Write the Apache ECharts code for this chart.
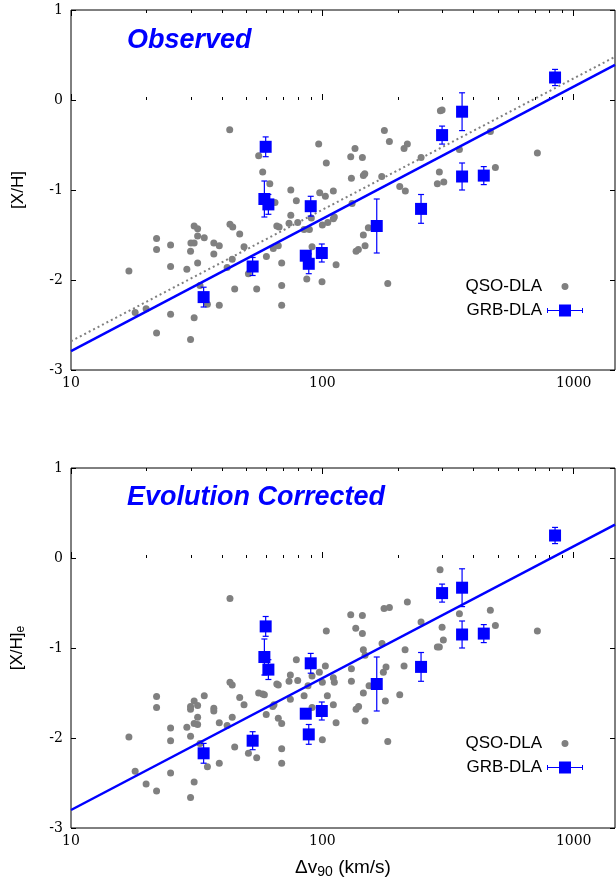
<!DOCTYPE html>
<html>
<head>
<meta charset="utf-8">
<script src="https://cdn.jsdelivr.net/npm/echarts@6/dist/echarts.min.js"></script>
<style>
  html, body { margin: 0; padding: 0; background: #fff; }
  #chart { width: 616px; height: 888px; }
</style>
</head>
<body>
<div id="chart"></div>
<script>
// QSO-DLA points: [dv90 (km/s), [X/H]]
const qsoObs = [
  [42.8,-0.33],[55.8,-0.62],[57.9,-0.80],[61.8,-0.93],[96.7,-0.49],[103.7,-0.70],[74.9,-1.00],[78.8,-1.12],
  [64.8,-1.14],[97.6,-1.03],[102.8,-1.07],[110.6,-1.01],[74.9,-1.28],[65.9,-1.40],[67.3,-1.41],[73.7,-1.37],
  [79.8,-1.36],[84.6,-1.44],[88.8,-1.44],[100,-1.39],[105.1,-1.36],[110.6,-1.32],[111.6,-1.30],[30.9,-1.40],
  [31.9,-1.43],[42.9,-1.38],[44.0,-1.41],[46.9,-1.49],[21.9,-1.54],[21.9,-1.66],[24.9,-1.61],[31.9,-1.51],
  [33.9,-1.53],[30.0,-1.59],[30.9,-1.59],[29.9,-1.68],[37.0,-1.59],[38.9,-1.62],[37.0,-1.71],[48.8,-1.63],
  [63.8,-1.65],[66.8,-1.62],[59.9,-1.74],[43.8,-1.77],[41.8,-1.86],[31.9,-1.81],[28.9,-1.88],[24.9,-1.85],
  [17.0,-1.90],[68.9,-1.81],[91.0,-1.63],[113.4,-1.83],[50.8,-1.93],[44.8,-2.10],[54.8,-2.10],[68.9,-2.06],
  [86.7,-1.99],[99.7,-2.02],[32.6,-2.06],[34.9,-2.27],[38.9,-2.28],[68.9,-2.28],[18.0,-2.36],[19.9,-2.32],
  [24.9,-2.38],[30.9,-2.42],[21.9,-2.59],[29.9,-2.66],[90.4,-1.31],
  [176.5,-0.34],[184.8,-0.46],[211.4,-0.54],[217.9,-0.49],[134.9,-0.54],[129.7,-0.63],[144.3,-0.64],
  [145.6,-0.84],[147.5,-0.82],[130.5,-0.87],[172.3,-0.85],[247.1,-0.64],[294.9,-0.12],[299.5,-0.11],
  [466.2,-0.35],[351,-0.55],[717,-0.59],[488,-0.75],[292.1,-0.80],[286.8,-0.93],[304.2,-0.91],[203.2,-0.96],
  [213.9,-1.01],[131.3,-1.15],[152.4,-1.42],[145.6,-1.50],[147.9,-1.62],[139.1,-1.66],[136.2,-1.68],[182.1,-2.04]
];

const qsoCorr = [
  [42.9,-0.45],[103.7,-0.81],[78.8,-1.13],[102.8,-1.20],[97.3,-1.27],[91.0,-1.31],[74.6,-1.30],[79.8,-1.36],
  [73.7,-1.37],[87.7,-1.42],[100,-1.38],[110.6,-1.33],[111.6,-1.38],[65.9,-1.40],[66.8,-1.41],[55.8,-1.50],
  [57.9,-1.51],[58.8,-1.52],[42.9,-1.38],[43.8,-1.41],[46.9,-1.55],[48.8,-1.63],[33.9,-1.53],[30.9,-1.59],
  [31.9,-1.64],[29.9,-1.65],[29.9,-1.68],[21.9,-1.54],[21.9,-1.66],[37.0,-1.67],[37.0,-1.70],[31.9,-1.77],
  [30.9,-1.84],[31.9,-1.85],[38.9,-1.83],[41.8,-1.86],[43.8,-1.77],[24.9,-1.89],[28.9,-1.88],[29.9,-1.98],
  [24.9,-2.03],[17.0,-1.99],[64.2,-1.63],[63.5,-1.65],[59.8,-1.74],[66.8,-1.78],[68.9,-1.84],[74.6,-1.57],
  [84.6,-1.53],[91.0,-1.66],[104.7,-1.53],[110.6,-1.63],[113.4,-1.83],[100,-2.02],[32.6,-2.06],[44.8,-2.10],
  [50.8,-2.17],[54.8,-2.22],[68.9,-2.12],[68.9,-2.28],[34.9,-2.32],[38.9,-2.28],[18.0,-2.37],[24.9,-2.39],
  [19.9,-2.51],[30.9,-2.49],[21.9,-2.59],[29.9,-2.66],
  [294.0,-0.13],[351,-0.62],[466,-0.58],[488,-0.75],[717,-0.81],[299.5,-0.77],[303,-0.91],[286.8,-0.99],
  [292.1,-0.99],[247,-0.71],[217.9,-0.49],[176,-0.56],[184.8,-0.55],[213.4,-1.02],[211.4,-1.20],[203.2,-1.52],
  [172.8,-0.95],[145.6,-1.02],[147.9,-1.08],[129.7,-0.63],[144.3,-0.64],[135.8,-0.78],[144.3,-0.84],
  [130.5,-1.23],[130.5,-1.37],[145.6,-1.50],[153.4,-1.42],[174.9,-1.27],[179.2,-1.21],[136.2,-1.68],
  [139.4,-1.65],[178.1,-1.59],[147.9,-1.81],[182.1,-2.04]
];

// GRB-DLA points
const grbV    = [59.5, 58.8, 61.0, 89.9, 52.8, 33.7, 85.9, 88.3, 99.5, 164.6, 247, 299.5, 359.7, 359.7, 438.8, 843];
const grbObs  = [-0.52, -1.10, -1.16, -1.18, -1.85, -2.19, -1.73, -1.82, -1.70, -1.40, -1.21, -0.39, -0.13, -0.85, -0.84, 0.25];
const grbCorr = [-0.76, -1.10, -1.24, -1.17, -2.03, -2.17, -1.73, -1.96, -1.70, -1.40, -1.21, -0.39, -0.33, -0.85, -0.84, 0.25];
const grbErr  = [0.11, 0.20, 0.11, 0.11, 0.10, 0.11, 0.05, 0.11, 0.10, 0.30, 0.16, 0.10, 0.21, 0.15, 0.10, 0.09];

// fit lines (end points)
const fitObs    = [[10, -2.79], [1460, 0.39]];
const fitQsoObs = [[10, -2.68], [1460, 0.48]];
const fitCorr   = [[10, -2.80], [1460, 0.37]];

const xMajorTicks = [10, 100, 1000];
const xMinorTicks = [20, 30, 40, 50, 60, 70, 80, 90, 200, 300, 400, 500, 600, 700, 800, 900];
const xMin = 10, xMax = 1460;

const BLUE = '#0000ff';
const GRAY = '#808080';

const chart = echarts.init(document.getElementById('chart'), null, { renderer: 'canvas' });

const grbIcon = 'path://M0,3.5h1v5h-1zM35,3.5h1v5h-1zM0,5.5h36v1h-36zM12,0h12v12h-12z';
const dotIcon = 'path://M0,0L0.01,0M36,12L36.01,12M14.5,6A3.5,3.5,0,1,1,21.5,6A3.5,3.5,0,1,1,14.5,6Z';

const tickFont = { fontFamily: 'DejaVu Serif', fontSize: 14, color: '#000' };

function xAxesFor(p, withName) {
  const base = {
    gridIndex: p, type: 'log', logBase: 10, min: xMin, max: xMax,
    axisLine: { show: false }, splitLine: { show: false }
  };
  const main = Object.assign({}, base, {
    position: 'bottom',
    axisTick: { inside: true, length: 6, customValues: xMajorTicks, lineStyle: { color: '#000' } },
    axisLabel: Object.assign({ margin: 6, customValues: xMajorTicks, formatter: v => String(Math.round(v)) }, tickFont)
  });
  if (withName) {
    Object.assign(main, {
      name: '{a|Δv}{s|90}{a| (km/s)}',
      nameLocation: 'middle',
      nameGap: 28,
      nameTextStyle: {
        rich: {
          a: { fontFamily: 'Liberation Sans', fontSize: 19, color: '#000' },
          s: { fontFamily: 'Liberation Sans', fontSize: 14, color: '#000', padding: [9, 0, 0, 0] }
        }
      }
    });
  }
  return [
    main,
    Object.assign({}, base, {
      position: 'bottom',
      axisTick: { inside: true, length: 3, customValues: xMinorTicks, lineStyle: { color: '#000' } },
      axisLabel: { show: false }
    }),
    Object.assign({}, base, {
      position: 'top',
      axisTick: { inside: true, length: 6, customValues: xMajorTicks, lineStyle: { color: '#000' } },
      axisLabel: { show: false }
    }),
    Object.assign({}, base, {
      position: 'top',
      axisTick: { inside: true, length: 3, customValues: xMinorTicks, lineStyle: { color: '#000' } },
      axisLabel: { show: false }
    })
  ];
}

function yAxesFor(p, name) {
  const base = {
    gridIndex: p, type: 'value', min: -3, max: 1, interval: 1,
    axisLine: { show: false }, splitLine: { show: false },
    axisTick: { inside: true, length: 5, lineStyle: { color: '#000' } }
  };
  return [
    Object.assign({}, base, {
      position: 'left',
      axisLabel: Object.assign({ margin: 8 }, tickFont),
      name: name,
      nameLocation: 'middle',
      nameRotate: 90,
      nameGap: 44,
      nameTextStyle: {
        rich: {
          a: { fontFamily: 'Liberation Sans', fontSize: 17, color: '#000' },
          s: { fontFamily: 'Liberation Sans', fontSize: 12, color: '#000', padding: [8, 0, 0, 0] }
        }
      }
    }),
    Object.assign({}, base, { position: 'right', axisLabel: { show: false } })
  ];
}

function errBarSeries(p, vals) {
  const data = grbV.map((v, i) => [v, vals[i], grbErr[i]]);
  return {
    name: 'GRB-DLA err',
    type: 'custom',
    xAxisIndex: p * 4, yAxisIndex: p * 2,
    z: 4,
    data: data,
    encode: { x: 0, y: 1 },
    renderItem: function (params, api) {
      const x = api.value(0), y = api.value(1), e = api.value(2);
      const t = api.coord([x, y + e]);
      const b = api.coord([x, y - e]);
      const w = 3;
      const st = { stroke: BLUE, lineWidth: 1.2 };
      return {
        type: 'group',
        children: [
          { type: 'line', shape: { x1: t[0], y1: t[1], x2: b[0], y2: b[1] }, style: st },
          { type: 'line', shape: { x1: t[0] - w, y1: t[1], x2: t[0] + w, y2: t[1] }, style: st },
          { type: 'line', shape: { x1: b[0] - w, y1: b[1], x2: b[0] + w, y2: b[1] }, style: st }
        ]
      };
    }
  };
}

function panelSeries(p, qso, grbVals, fits) {
  const s = [
    {
      name: 'QSO-DLA', type: 'scatter', xAxisIndex: p * 4, yAxisIndex: p * 2,
      symbol: 'circle', symbolSize: 7, itemStyle: { color: GRAY, opacity: 1 }, z: 2,
      data: qso
    }
  ];
  fits.forEach(f => {
    s.push({
      name: f.name, type: 'line', xAxisIndex: p * 4, yAxisIndex: p * 2,
      symbol: 'none', z: 3, data: f.data,
      lineStyle: f.style
    });
  });
  s.push(errBarSeries(p, grbVals));
  s.push({
    name: 'GRB-DLA', type: 'scatter', xAxisIndex: p * 4, yAxisIndex: p * 2,
    symbol: 'rect', symbolSize: 12, itemStyle: { color: BLUE, opacity: 1 }, z: 5,
    data: grbV.map((v, i) => [v, grbVals[i]])
  });
  return s;
}

function legendsFor(top) {
  const common = {
    right: 33, padding: 0, orient: 'horizontal', align: 'right',
    itemWidth: 36, itemHeight: 12, selectedMode: false,
    textStyle: { fontFamily: 'Liberation Sans', fontSize: 17, color: '#000' }
  };
  return [
    Object.assign({}, common, { top: top, data: [{ name: 'QSO-DLA', icon: dotIcon }] }),
    Object.assign({}, common, { top: top + 24, data: [{ name: 'GRB-DLA', icon: grbIcon }] })
  ];
}

const titleStyle = { fontFamily: 'Liberation Sans', fontSize: 27, fontWeight: 'bold', fontStyle: 'italic', color: BLUE };

const gridBase = { left: 71, right: 1, height: 360, show: true, borderColor: '#000', borderWidth: 1, outerBoundsMode: 'none', containLabel: false };

const option = {
  animation: false,
  backgroundColor: '#fff',
  title: [
    { text: 'Observed', left: 127, top: 27, padding: 0, textStyle: titleStyle },
    { text: 'Evolution Corrected', left: 127, top: 484, padding: 0, textStyle: titleStyle }
  ],
  legend: legendsFor(278).concat(legendsFor(735)),
  grid: [
    Object.assign({ top: 10 }, gridBase),
    Object.assign({ top: 468 }, gridBase)
  ],
  xAxis: xAxesFor(0, false).concat(xAxesFor(1, true)),
  yAxis: yAxesFor(0, '{a|[X/H]}').concat(yAxesFor(1, '{a|[X/H]}{s|e}')),
  series: [].concat(
    panelSeries(0, qsoObs, grbObs, [
      { name: 'fit qso', data: fitQsoObs, style: { color: GRAY, width: 2, type: [2, 3] } },
      { name: 'fit', data: fitObs, style: { color: BLUE, width: 2.5 } }
    ]),
    panelSeries(1, qsoCorr, grbCorr, [
      { name: 'fit', data: fitCorr, style: { color: BLUE, width: 2.5 } }
    ])
  )
};

chart.setOption(option);
</script>
</body>
</html>
